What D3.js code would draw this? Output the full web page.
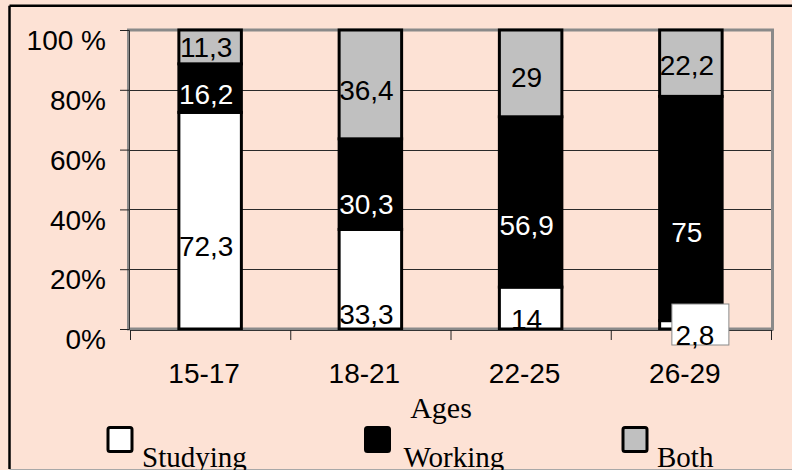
<!DOCTYPE html>
<html>
<head>
<meta charset="utf-8">
<script src="https://cdn.jsdelivr.net/npm/d3@7"></script>
<style>
  body { margin: 0; background: #fde2d5; }
  svg { display: block; }
</style>
</head>
<body>
<div class="area"></div>
<script>
const width = 792
const height = 470
const bg = "#fde2d5"

const categories = ["15-17", "18-21", "22-25", "26-29"]
const seriesNames = ["Studying", "Working", "Both"]
const studying = [72.3, 33.3, 14, 2.8]
const working = [16.2, 30.3, 56.9, 75]
const both = [11.3, 36.4, 29, 22.2]
const yTicks = [0, 0.2, 0.4, 0.6, 0.8, 1]
const yTickLabels = ["0%", "20%", "40%", "60%", "80%", "100 %"]
const axisTitle = "Ages"

const fills = ["#ffffff", "#000000", "#c0c0c0"]
const textFills = ["#000000", "#ffffff", "#000000"]
const sans = "'Liberation Sans', Arial, sans-serif"
const serif = "'Liberation Serif', 'Times New Roman', serif"

const plot = {left: 130, right: 771, top: 30, bottom: 329}

const rows = categories.map((c, i) => ({
  cat: c,
  Studying: studying[i],
  Working: working[i],
  Both: both[i]
}))

const stack = d3.stack()
  .keys(seriesNames)
  .offset(d3.stackOffsetExpand)
const layers = stack(rows)

const svg = d3.select(".area")
  .append("svg")
  .attr("width", width)
  .attr("height", height)
  .attr("viewBox", [0, 0, width, height])

svg.append("rect")
  .attr("width", width).attr("height", height)
  .attr("fill", bg)

// outer frame (right edge runs off the picture)
svg.append("line").attr("x1", 9.5).attr("x2", 9.5).attr("y1", 5.8).attr("y2", 469)
  .attr("stroke", "#000").attr("stroke-width", 2.5)
svg.append("line").attr("x1", 9.5).attr("x2", width).attr("y1", 5.8).attr("y2", 5.8)
  .attr("stroke", "#000").attr("stroke-width", 2.5)
svg.append("line").attr("x1", 9.5).attr("x2", width).attr("y1", 469.5).attr("y2", 469.5)
  .attr("stroke", "#a8a8a8").attr("stroke-width", 1)

const x = d3.scaleBand()
  .domain(categories)
  .range([plot.left, plot.right])
  .paddingInner(0.61)
  .paddingOuter(0.305)

const y = d3.scaleLinear()
  .domain([0, 1])
  .range([plot.bottom, plot.top])

// labels sit on a stretched copy of the value scale
const labelY = d3.scaleLinear()
  .domain([0, 1])
  .range([371, 27])

const gridLayer = svg.append("g")
const frameLayer = svg.append("g")
const barLayer = svg.append("g")
const axisLayer = svg.append("g")
const labelLayer = svg.append("g")

gridLayer.selectAll("line")
  .data(yTicks.slice(1, -1))
  .enter().append("line")
  .attr("x1", plot.left).attr("x2", plot.right)
  .attr("y1", d => Math.round(y(d)) + 0.5).attr("y2", d => Math.round(y(d)) + 0.5)
  .attr("stroke", "#2a2a2a").attr("stroke-width", 1)

frameLayer.append("rect")
  .attr("x", plot.left - 1.5).attr("y", plot.top)
  .attr("width", plot.right - plot.left + 3).attr("height", plot.bottom - plot.top)
  .attr("fill", "none")
  .attr("stroke", "#8a8a8a").attr("stroke-width", 3)

layers.forEach((layer, si) => {
  barLayer.selectAll(null)
    .data(layer)
    .enter().append("rect")
    .attr("x", d => x(d.data.cat))
    .attr("y", d => y(d[1]))
    .attr("width", x.bandwidth())
    .attr("height", d => y(d[0]) - y(d[1]))
    .attr("fill", fills[si])
    .attr("stroke", "#000")
    .attr("stroke-width", 3)
})

// y axis
const yAxis = d3.axisLeft(y)
  .tickValues(yTicks)
  .tickSize(9)
  .tickFormat((d, i) => yTickLabels[i])
const yg = axisLayer.append("g")
  .attr("transform", `translate(${plot.left - 1},0)`)
  .call(yAxis)
yg.select(".domain").attr("stroke", "#333")
yg.selectAll(".tick line").attr("stroke", "#222")
yg.selectAll(".tick text")
  .attr("x", -23)
  .attr("dy", "0.7em")
  .attr("font-family", sans)
  .attr("font-size", 28)
  .attr("fill", "#000")

// x axis, ticks between categories
const xg = axisLayer.append("g")
  .attr("transform", `translate(0,${plot.bottom + 1})`)
xg.append("line")
  .attr("x1", plot.left).attr("x2", plot.right + 1.5)
  .attr("y1", 0.5).attr("y2", 0.5)
  .attr("stroke", "#333")
const step = x.step()
xg.selectAll(".tk")
  .data(d3.range(categories.length + 1))
  .enter().append("line")
  .attr("x1", i => plot.left + i * step + 0.5)
  .attr("x2", i => plot.left + i * step + 0.5)
  .attr("y1", 0).attr("y2", 10)
  .attr("stroke", "#222")
xg.selectAll("text")
  .data(categories)
  .enter().append("text")
  .attr("x", d => x(d) + x.bandwidth() / 2 - 6)
  .attr("y", 53)
  .attr("text-anchor", "middle")
  .attr("font-family", sans)
  .attr("font-size", 28)
  .text(d => d)

svg.append("text")
  .attr("x", 441)
  .attr("y", 418)
  .attr("text-anchor", "middle")
  .attr("font-family", serif)
  .attr("font-size", 30)
  .text(axisTitle)

// data labels
const fmt = v => String(v).replace(".", ",")
layers.forEach((layer, si) => {
  const vals = [studying, working, both][si]
  layer.forEach((d, ci) => {
    const cx = x(d.data.cat) + x.bandwidth() / 2
    const share = d[1] - d[0]
    if (share < 0.05) {
      labelLayer.append("rect")
        .attr("x", cx - 19).attr("y", y(0) - 25)
        .attr("width", 57).attr("height", 41)
        .attr("fill", "#fff")
        .attr("stroke", "#8a8a8a").attr("stroke-width", 1)
      labelLayer.append("text")
        .attr("x", cx + 4).attr("y", y(0) + 16)
        .attr("text-anchor", "middle")
        .attr("font-family", sans).attr("font-size", 28)
        .attr("fill", "#000")
        .text(fmt(vals[ci]))
      return
    }
    const ly = Math.min(labelY((d[0] + d[1]) / 2), y(0) - 10)
    labelLayer.append("text")
      .attr("x", cx - 4)
      .attr("y", ly)
      .attr("dy", "0.36em")
      .attr("text-anchor", "middle")
      .attr("font-family", sans).attr("font-size", 28)
      .attr("fill", textFills[si])
      .text(fmt(vals[ci]))
  })
})

// legend
const legend = svg.append("g")
seriesNames.forEach((name, i) => {
  const lx = 108 + i * 257.5
  legend.append("rect")
    .attr("x", lx).attr("y", 427.5)
    .attr("width", 24).attr("height", 24)
    .attr("rx", 2)
    .attr("fill", fills[i])
    .attr("stroke", "#000").attr("stroke-width", 3)
  legend.append("text")
    .attr("x", lx + 34 + (i === 1 ? 4 : 0))
    .attr("y", 467)
    .attr("font-family", serif)
    .attr("font-size", 29)
    .text(name)
})
</script>
</body>
</html>
